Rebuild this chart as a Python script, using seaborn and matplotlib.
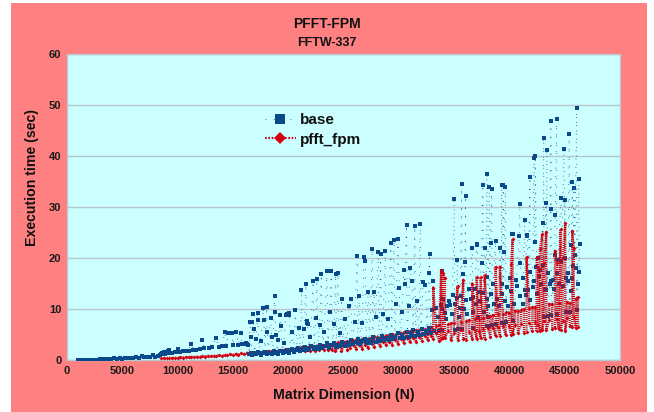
import matplotlib
matplotlib.use("Agg")
import matplotlib.pyplot as plt
from matplotlib.lines import Line2D
from matplotlib.patches import Rectangle
import pandas as pd
import seaborn as sns

# valeurs (N, temps), dans l'ordre de la courbe
base_n = [
    1000, 1250, 1500, 1750, 2000, 2250, 2500, 2750, 3000, 3250, 3500, 3750, 4000, 4250, 4500, 4750,
    5000, 5250, 5500, 5750, 6000, 6250, 6500, 6750, 7000, 7250, 7500, 7750, 8000, 8250, 8400, 8500,
    8600, 8750, 8900, 9000, 9100, 9250, 9400, 9500, 9750, 10000, 10100, 10250, 10500, 10750, 11000,
    11200, 11400, 11700, 12000, 12200, 12400, 12800, 13100, 13500, 13700, 14000, 14280, 14400, 14600,
    14900, 15000, 15300, 15500, 15700, 15800, 16000, 16200, 16300, 16400, 16500, 16540, 16600, 16650,
    16740, 16830, 16900, 16950, 17100, 17240, 17270, 17350, 17500, 17750, 17800, 17900, 18050, 18100,
    18200, 18400, 18500, 18600, 18775, 18800, 18900, 19000, 19100, 19280, 19350, 19450, 19600, 19800,
    19900, 19980, 20050, 20100, 20200, 20350, 20500, 20650, 20800, 20950, 21100, 21200, 21300, 21450,
    21600, 21670, 21700, 21750, 21850, 22000, 22250, 22350, 22500, 22600, 22700, 22850, 23000, 23100,
    23250, 23500, 23600, 23750, 23900, 24000, 24150, 24290, 24350, 24500, 24600, 24700, 24830, 24950,
    25100, 25300, 25500, 25650, 25800, 26000, 26250, 26300, 26420, 26550, 26700, 26850, 26970, 27050,
    27240, 27350, 27600, 27650, 27750, 27900, 28150, 28200, 28360, 28450, 28600, 28780, 28850, 29000,
    29290, 29350, 29560, 29650, 29750, 29930, 30040, 30150, 30300, 30460, 30560, 30700, 30750, 30900,
    31010, 31190, 31300, 31450, 31500, 31650, 31800, 31940, 32000, 32200, 32400, 32550, 32730, 32780,
    32850, 33000, 33110, 33200, 33400, 33600, 33780, 33870, 33900, 34170, 34320, 34620, 34860, 35010,
    35050, 35220, 35290, 35350, 35530, 35680, 35700, 35830, 35980, 36040, 36070, 36370, 36640, 36700,
    36730, 36880, 37040, 37090, 37270, 37480, 37600, 37630, 37780, 37930, 37970, 38000, 38080, 38180,
    38200, 38300, 38400, 38450, 38540, 38750, 38800, 39140, 39290, 39300, 39350, 39440, 39480, 39530,
    39630, 39700, 39740, 40040, 40280, 40290, 40350, 40640, 40880, 40950, 40940, 41250, 41380, 41400,
    41550, 41610, 41700, 41860, 41850, 42090, 42220, 42300, 42340, 42450, 42600, 42750, 43000, 43050,
    43100, 43150, 43300, 43350, 43390, 43450, 43650, 43720, 43750, 43800, 43960, 44100, 44140, 44270,
    44300, 44400, 44660, 44710, 44930, 45010, 45020, 45100, 45310, 45410, 45450, 45610, 45680, 45760,
    45830, 45910, 46080, 46100, 46280, 46300, 46370,
]
base_t = [
    0.05, 0.05, 0.05, 0.05, 0.06, 0.07, 0.08, 0.08, 0.1, 0.2, 0.12, 0.15, 0.2, 0.35, 0.22, 0.3,
    0.25, 0.3, 0.3, 0.45, 0.4, 0.5, 0.45, 0.8, 0.5, 0.55, 0.5, 0.9, 0.6, 0.7, 0.9, 1.1,
    1.3, 1.5, 1.2, 1.3, 1.8, 1.9, 1.3, 1.4, 1.5, 2.1, 1.6, 1.6, 1.7, 1.7, 1.8,
    3.2, 2.0, 2.0, 2.2, 4.0, 2.3, 2.4, 2.5, 4.3, 2.6, 2.7, 5.4, 2.8, 5.2,
    5.3, 2.9, 5.4, 3.0, 5.3, 3.1, 3.2, 3.3, 3.1, 3.0, 1.2, 7.5, 4.5, 1.3,
    7.4, 9.0, 6.0, 1.4, 4.2, 9.3, 7.8, 1.3, 3.8, 10.2, 7.8, 1.4, 10.4, 5.5,
    1.5, 8.2, 4.5, 1.6, 12.5, 9.5, 5.0, 1.6, 4.0, 8.9, 6.6, 1.7, 3.3, 8.9,
    9.1, 9.0, 9.3, 8.8, 2.0, 5.5, 2.0, 9.8, 2.1, 6.2, 2.2, 13.7, 2.3, 6.0,
    14.9, 7.3, 7.6, 7.0, 2.4, 4.5, 15.5, 2.5, 8.3, 15.9, 2.6, 6.8, 16.8, 2.7,
    5.4, 17.4, 2.8, 9.5, 17.4, 2.9, 7.0, 16.8, 3.0, 17.0, 3.0, 5.2, 12.0, 3.2,
    8.0, 3.2, 10.5, 12.0, 3.3, 7.5, 20.3, 3.4, 12.5, 3.5, 7.2, 20.1, 19.4, 3.6,
    13.4, 3.7, 21.7, 3.8, 13.3, 8.4, 21.1, 3.9, 20.7, 4.0, 9.0, 21.4, 4.1, 8.0,
    23.0, 4.2, 23.5, 4.3, 11.0, 23.7, 14.2, 4.4, 9.5, 17.6, 15.0, 26.5, 4.5, 10.5,
    18.0, 15.5, 4.7, 26.2, 4.8, 11.5, 4.9, 26.7, 5.0, 15.2, 14.8, 5.2, 17.0, 20.8,
    5.4, 9.8, 15.5, 5.6, 10.2, 5.7, 10.8, 17.5, 5.8, 9.2, 10.5, 10.8, 12.7, 31.5,
    5.9, 12.1, 19.6, 6.0, 10.1, 34.5, 6.1, 16.9, 19.3, 32.2, 11.8, 14.0, 21.9, 6.2,
    12.4, 14.0, 22.6, 22.7, 13.4, 19.0, 34.4, 13.1, 21.9, 16.3, 36.5, 6.6, 10.5, 34.0,
    6.7, 23.0, 33.5, 6.8, 15.0, 23.3, 7.0, 22.0, 15.0, 34.4, 7.2, 34.4, 7.3, 21.2,
    33.9, 7.4, 14.4, 16.0, 24.8, 24.8, 7.6, 15.7, 24.3, 30.5, 19.0, 16.0, 27.4, 13.7,
    24.4, 24.5, 13.7, 35.9, 17.3, 14.4, 39.7, 23.2, 40.0, 18.3, 20.0, 17.6, 26.8, 18.6,
    43.6, 8.4, 30.7, 13.7, 41.1, 8.6, 15.0, 29.7, 46.9, 8.8, 15.7, 20.6, 28.5, 47.2,
    9.0, 19.6, 31.7, 19.3, 41.4, 20.0, 31.3, 9.4, 17.0, 44.4, 9.5, 22.5, 35.0, 18.5,
    33.7, 20.6, 49.5, 9.8, 35.5, 17.3, 22.7,
]

# bande basse de base (16500-33000) et nuage du milieu (33000-46300)
base_low_n = [
    16500, 16700, 16900, 17100, 17300, 17500, 17700, 17900, 18100, 18300, 18500, 18700, 18900, 19100,
    19300, 19500, 19700, 19900, 20100, 20300, 20500, 20700, 20900, 21100, 21300, 21500, 21700, 21900,
    22100, 22300, 22500, 22700, 22900, 23100, 23300, 23500, 23700, 23900, 24100, 24300, 24500, 24700,
    24900, 25100, 25300, 25500, 25700, 25900, 26100, 26300, 26500, 26700, 26900, 27100, 27300, 27500,
    27700, 27900, 28100, 28300, 28500, 28700, 28900, 29100, 29300, 29500, 29700, 29900, 30100, 30300,
    30500, 30700, 30900, 31100, 31300, 31500, 31700, 31900, 32100, 32300, 32500, 32700, 32900,
]
base_low_t = [
    1.2, 0.9, 1.4, 1.1, 1.5, 1.0, 1.3, 1.6, 1.2, 1.4, 1.1, 1.7, 1.4, 1.2,
    1.8, 1.3, 1.6, 1.9, 1.4, 2.1, 1.6, 1.9, 2.3, 1.7, 2.0, 2.6, 1.9, 2.2,
    2.8, 2.1, 2.5, 2.2, 3.0, 2.3, 2.7, 3.3, 2.4, 2.9, 3.4, 2.5, 3.0, 2.7,
    3.6, 2.8, 3.3, 3.0, 3.9, 3.1, 3.5, 4.1, 3.2, 3.7, 4.2, 3.3, 3.9, 3.4,
    4.5, 3.5, 4.1, 3.7, 4.7, 3.9, 4.4, 4.0, 5.0, 4.1, 4.6, 5.3, 4.3, 4.9,
    4.4, 5.5, 4.6, 5.1, 5.8, 4.8, 5.4, 4.9, 6.0, 5.1, 5.6, 6.2, 5.3,
]
base_mid_n = [
    33500, 33900, 34000, 34300, 34500, 34800, 35100, 35400, 35600, 35900, 36200, 36500, 36700, 36950,
    37200, 37350, 37700, 37950, 38100, 38350, 38600, 38900, 39050, 39300, 39600, 39900, 40100, 40400,
    40700, 41000, 41200, 41500, 41900, 42200, 42500, 42700, 42900, 43200, 43500, 43800, 44050, 44300,
    44500, 44850, 45100, 45300, 45550, 45700, 46000, 46200,
]
base_mid_t = [
    8.5, 10.0, 12.0, 8.0, 11.5, 9.0, 11.0, 8.5, 12.5, 10.0, 9.0, 12.0, 9.5, 11.0,
    8.2, 11.5, 9.5, 12.0, 8.5, 13.0, 11.0, 12.0, 10.5, 13.0, 11.5, 10.5, 13.5, 11.0,
    14.5, 12.5, 11.0, 12.7, 11.8, 15.5, 13.0, 16.5, 15.0, 14.0, 17.0, 15.5, 14.0, 17.0,
    15.0, 14.5, 16.0, 15.5, 13.5, 16.0, 18.0, 15.0,
]

# pfft_fpm: bande etroite jusqu'a 24000 puis colonnes (bas, haut)
fpm_band_n = [
    8500, 8750, 9000, 9250, 9500, 9750, 10000, 10250, 10500, 10750, 11000, 11250, 11500, 11750, 12000,
    12250, 12500, 12750, 13000, 13250, 13500, 13750, 14000, 14250, 14500, 14750, 15000, 15250, 15500,
    15750, 16000, 16250, 16500, 16750, 17000, 17250, 17500, 17750, 18000, 18250, 18500, 18750, 19000,
    19250, 19500, 19750, 20000, 20250, 20500, 20750, 21000, 21250, 21500, 21750, 22000, 22200, 22400,
    22600, 22800, 23000, 23200, 23400, 23600, 23800,
]
fpm_band_t = [
    0.3, 0.35, 0.3, 0.4, 0.35, 0.45, 0.4, 0.5, 0.45, 0.55, 0.5, 0.6, 0.55, 0.65, 0.6,
    0.75, 0.65, 0.8, 0.7, 0.85, 0.75, 0.95, 0.8, 1.0, 0.9, 1.1, 0.95, 1.2, 1.0,
    1.3, 1.1, 1.4, 1.15, 1.5, 1.2, 1.6, 1.3, 1.7, 1.35, 1.75, 1.4, 1.9, 1.5,
    2.0, 1.5, 2.1, 1.6, 2.2, 1.6, 2.3, 1.7, 2.4, 1.7, 2.5, 1.8, 2.6, 1.8,
    2.8, 1.9, 2.9, 1.9, 3.0, 1.9, 3.1,
]
fpm_col_n = [
    24000, 24270, 24540, 24810, 25080, 25350, 25620, 25890, 26160, 26430, 26700, 26970, 27240, 27510,
    27780, 28050, 28320, 28590, 28860, 29130, 29400, 29670, 29940, 30210, 30480, 30750, 31020, 31290,
    31560, 31830, 32100, 32370, 32640, 32910, 33110, 33380, 33650, 33830, 34000, 34170, 34440, 34710,
    34980, 35320, 35590, 35830, 36100, 36370, 36640, 36850, 37040, 37230, 37400, 37580, 37760, 38020,
    38290, 38500, 38750, 38950, 39140, 39400, 39670, 39940, 40150, 40290, 40500, 40770, 41040, 41310,
    41550, 41800, 42070, 42300, 42460, 42620, 42760, 42970, 43120, 43330, 43600, 43870, 44120, 44300,
    44460, 44630, 44820, 45050, 45230, 45450, 45680, 45820, 46020, 46200,
]
fpm_col_low = [
    2.0, 1.7, 2.6, 1.8, 2.9, 1.9, 2.4, 3.0, 2.1, 3.0, 2.2, 2.9, 2.4, 3.3,
    2.5, 3.5, 2.7, 3.6, 2.9, 3.5, 3.0, 4.0, 3.2, 4.1, 3.3, 4.3, 3.5, 4.4,
    3.6, 4.6, 3.8, 4.7, 3.9, 4.8, 4.2, 5.2, 3.8, 4.2, 4.4, 4.3, 5.6, 3.9,
    5.2, 4.0, 5.8, 4.2, 3.9, 5.5, 4.2, 5.9, 4.1, 5.6, 4.3, 6.0, 4.2, 6.2,
    4.6, 6.3, 4.7, 6.4, 4.8, 6.6, 4.9, 6.7, 5.0, 5.1, 6.8, 5.2, 7.0, 5.3,
    5.5, 7.2, 5.6, 7.4, 5.6, 6.9, 5.7, 5.9, 7.6, 5.8, 7.8, 6.0, 6.3, 8.0,
    6.1, 5.8, 7.7, 5.7, 8.2, 6.6, 6.4, 8.4, 6.2, 6.4,
]
fpm_col_high = [
    3.2, 3.3, 3.5, 3.6, 3.5, 3.7, 3.8, 3.9, 4.0, 3.9, 4.1, 4.2, 4.2, 4.3,
    4.5, 4.6, 4.6, 4.8, 4.8, 4.9, 5.1, 5.0, 5.2, 5.3, 5.4, 5.4, 5.6, 5.6,
    5.8, 5.8, 6.0, 6.1, 6.3, 6.4, 14.2, 6.6, 6.9, 17.6, 17.0, 16.0, 7.0, 7.2,
    7.3, 14.6, 7.5, 15.7, 7.7, 7.8, 15.0, 8.0, 16.2, 8.1, 16.2, 8.2, 16.7, 8.4,
    8.6, 8.8, 18.2, 9.0, 18.3, 9.1, 9.4, 9.3, 18.8, 23.7, 9.6, 9.7, 9.9, 10.0,
    20.1, 10.2, 10.3, 10.4, 20.1, 18.0, 21.7, 24.7, 19.0, 25.1, 11.0, 10.9, 21.4, 19.0,
    11.1, 25.6, 20.0, 26.8, 11.3, 11.2, 25.3, 22.0, 12.0, 12.3,
]

tick_x = [0, 5000, 10000, 15000, 20000, 25000, 30000, 35000, 40000, 45000, 50000]
tick_y = [0, 10, 20, 30, 40, 50, 60]

BLUE = "#0a4a8c"
RED = "#d4000f"
BLUE_DOTS = (0, (1, 9))
RED_DOTS = (0, (0.45, 0.42))

sns.set_theme(style="white")
plt.rcParams["font.family"] = ["Liberation Sans", "DejaVu Sans"]
plt.rcParams["font.weight"] = "bold"

fig = plt.figure(figsize=(6.54, 4.12), dpi=100, facecolor="white")
fig.add_artist(Rectangle((11 / 654, 0), 636 / 654, 409 / 412, transform=fig.transFigure,
                         facecolor="#ff8080", edgecolor="none", zorder=-5))
ax = fig.add_axes([67 / 654, 1 - 360 / 412, 553 / 654, 306 / 412], facecolor="#ccffff")

# sequence rouge: colonnes verticales en aller-retour
seq_n = list(fpm_band_n)
seq_t = list(fpm_band_t)
for i, n in enumerate(fpm_col_n):
    pair = (fpm_col_low[i], fpm_col_high[i]) if i % 2 == 0 else (fpm_col_high[i], fpm_col_low[i])
    seq_n += [n, n]
    seq_t += list(pair)

df_base = pd.DataFrame({"n": base_n, "t": base_t})
df_low = pd.DataFrame({"n": base_low_n, "t": base_low_t})
df_mid = pd.DataFrame({"n": base_mid_n, "t": base_mid_t})
df_fpm = pd.DataFrame({"n": seq_n, "t": seq_t})

sns.lineplot(data=df_base, x="n", y="t", sort=False, estimator=None, ax=ax, color=BLUE,
             linewidth=0.6, linestyle=BLUE_DOTS, marker="s", markersize=2.6,
             markeredgewidth=0, zorder=3)
sns.scatterplot(data=df_mid, x="n", y="t", ax=ax, color=BLUE, marker="s", s=7, linewidth=0, zorder=3)
sns.lineplot(data=df_fpm, x="n", y="t", sort=False, estimator=None, ax=ax, color=RED,
             linewidth=1.7, linestyle=RED_DOTS, marker="D", markersize=2.0,
             markeredgewidth=0, zorder=4)
sns.scatterplot(data=df_low, x="n", y="t", ax=ax, color=BLUE, marker="s", s=7, linewidth=0, zorder=5)

ax.set_xlim(0, 50000)
ax.set_ylim(0, 60)
ax.set_xticks(tick_x)
ax.set_yticks(tick_y)
ax.tick_params(axis="both", labelsize=8, length=0, pad=4, colors="#1a1a1a")
ax.yaxis.grid(True, color="#b9c6ca", linewidth=1)
ax.set_axisbelow(True)
for s in ax.spines.values():
    s.set_color("#b9c6ca")
    s.set_linewidth(1)

ax.set_xlabel("Matrix Dimension (N)", fontsize=10.2, fontweight="bold", color="#111111", labelpad=9)
ax.set_ylabel("Execution time (sec)", fontsize=10.2, fontweight="bold", color="#111111", labelpad=7, y=0.595)

fig.text(327 / 654, 1 - 24 / 412, "PFFT-FPM", ha="center", va="center", fontsize=10, fontweight="bold", color="#111111")
fig.text(327 / 654, 1 - 43 / 412, "FFTW-337", ha="center", va="center", fontsize=9, fontweight="bold", color="#111111")

handles = [
    Line2D([], [], color=BLUE, linewidth=0.6, linestyle=BLUE_DOTS, marker="s", markersize=7, markeredgewidth=0),
    Line2D([], [], color=RED, linewidth=1.5, linestyle=(0, (0.8, 0.8)), marker="D", markersize=6, markeredgewidth=0),
]
ax.legend(handles, ["base", "pfft_fpm"], loc="upper left", bbox_to_anchor=((262 - 67) / 553, 1 - (110 - 54) / 306),
          frameon=False, fontsize=11, handlelength=2.0, handletextpad=0.27, labelspacing=0.37,
          borderpad=0.2, borderaxespad=0, labelcolor="#111111")

fig.savefig("out.png", dpi=100, facecolor="white")
